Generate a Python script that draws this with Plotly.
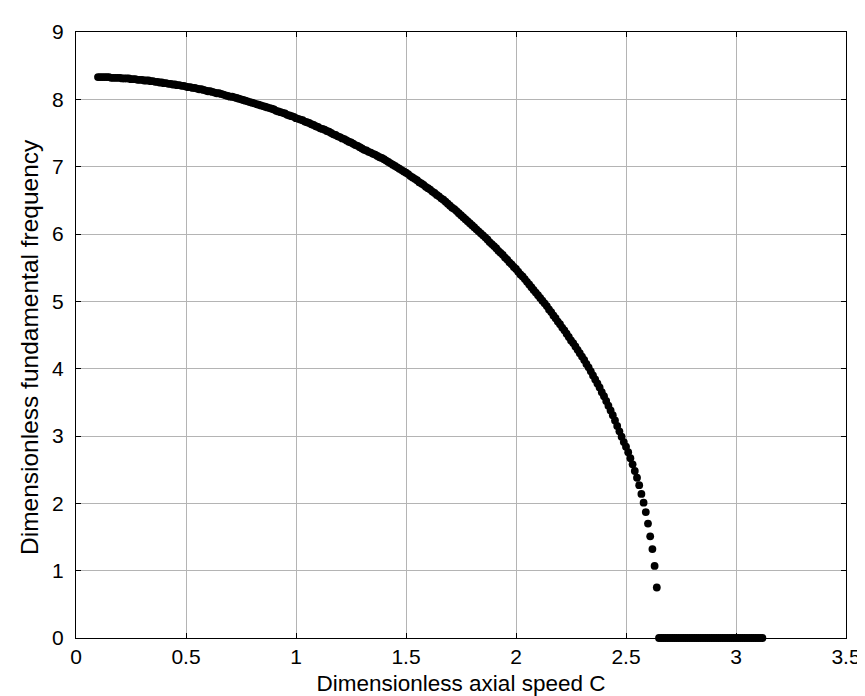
import plotly.graph_objects as go

# Dimensionless axial speed C (nonzero branch) and fundamental frequency
speed_curve = [
    0.10, 0.11, 0.12, 0.13, 0.14, 0.15, 0.16, 0.17, 0.18, 0.19,
    0.20, 0.21, 0.22, 0.23, 0.24, 0.25, 0.26, 0.27, 0.28, 0.29,
    0.30, 0.31, 0.32, 0.33, 0.34, 0.35, 0.36, 0.37, 0.38, 0.39,
    0.40, 0.41, 0.42, 0.43, 0.44, 0.45, 0.46, 0.47, 0.48, 0.49,
    0.50, 0.51, 0.52, 0.53, 0.54, 0.55, 0.56, 0.57, 0.58, 0.59,
    0.60, 0.61, 0.62, 0.63, 0.64, 0.65, 0.66, 0.67, 0.68, 0.69,
    0.70, 0.71, 0.72, 0.73, 0.74, 0.75, 0.76, 0.77, 0.78, 0.79,
    0.80, 0.81, 0.82, 0.83, 0.84, 0.85, 0.86, 0.87, 0.88, 0.89,
    0.90, 0.91, 0.92, 0.93, 0.94, 0.95, 0.96, 0.97, 0.98, 0.99,
    1.00, 1.01, 1.02, 1.03, 1.04, 1.05, 1.06, 1.07, 1.08, 1.09,
    1.10, 1.11, 1.12, 1.13, 1.14, 1.15, 1.16, 1.17, 1.18, 1.19,
    1.20, 1.21, 1.22, 1.23, 1.24, 1.25, 1.26, 1.27, 1.28, 1.29,
    1.30, 1.31, 1.32, 1.33, 1.34, 1.35, 1.36, 1.37, 1.38, 1.39,
    1.40, 1.41, 1.42, 1.43, 1.44, 1.45, 1.46, 1.47, 1.48, 1.49,
    1.50, 1.51, 1.52, 1.53, 1.54, 1.55, 1.56, 1.57, 1.58, 1.59,
    1.60, 1.61, 1.62, 1.63, 1.64, 1.65, 1.66, 1.67, 1.68, 1.69,
    1.70, 1.71, 1.72, 1.73, 1.74, 1.75, 1.76, 1.77, 1.78, 1.79,
    1.80, 1.81, 1.82, 1.83, 1.84, 1.85, 1.86, 1.87, 1.88, 1.89,
    1.90, 1.91, 1.92, 1.93, 1.94, 1.95, 1.96, 1.97, 1.98, 1.99,
    2.00, 2.01, 2.02, 2.03, 2.04, 2.05, 2.06, 2.07, 2.08, 2.09,
    2.10, 2.11, 2.12, 2.13, 2.14, 2.15, 2.16, 2.17, 2.18, 2.19,
    2.20, 2.21, 2.22, 2.23, 2.24, 2.25, 2.26, 2.27, 2.28, 2.29,
    2.30, 2.31, 2.32, 2.33, 2.34, 2.35, 2.36, 2.37, 2.38, 2.39,
    2.40, 2.41, 2.42, 2.43, 2.44, 2.45, 2.46, 2.47, 2.48, 2.49,
    2.50, 2.51, 2.52, 2.53, 2.54, 2.55, 2.56, 2.57, 2.58, 2.59,
    2.60, 2.61, 2.62, 2.63, 2.64,
]
freq_curve = [
    8.33, 8.33, 8.33, 8.33, 8.33, 8.33, 8.32, 8.32, 8.32, 8.32,
    8.32, 8.31, 8.31, 8.31, 8.31, 8.30, 8.30, 8.30, 8.29, 8.29,
    8.29, 8.28, 8.28, 8.28, 8.27, 8.27, 8.26, 8.26, 8.25, 8.25,
    8.24, 8.24, 8.23, 8.23, 8.22, 8.22, 8.21, 8.21, 8.20, 8.20,
    8.19, 8.18, 8.18, 8.17, 8.17, 8.16, 8.15, 8.15, 8.14, 8.13,
    8.12, 8.12, 8.11, 8.10, 8.09, 8.09, 8.08, 8.07, 8.06, 8.05,
    8.04, 8.04, 8.03, 8.02, 8.01, 8.00, 7.99, 7.98, 7.97, 7.96,
    7.95, 7.94, 7.93, 7.92, 7.91, 7.90, 7.89, 7.88, 7.87, 7.86,
    7.85, 7.83, 7.82, 7.81, 7.80, 7.79, 7.77, 7.76, 7.75, 7.74,
    7.72, 7.71, 7.70, 7.69, 7.67, 7.66, 7.65, 7.63, 7.62, 7.60,
    7.59, 7.57, 7.56, 7.55, 7.53, 7.52, 7.50, 7.48, 7.47, 7.45,
    7.44, 7.42, 7.41, 7.39, 7.37, 7.36, 7.34, 7.32, 7.31, 7.29,
    7.27, 7.25, 7.24, 7.22, 7.21, 7.19, 7.18, 7.16, 7.14, 7.13,
    7.11, 7.09, 7.07, 7.05, 7.03, 7.01, 6.99, 6.97, 6.95, 6.93,
    6.91, 6.89, 6.86, 6.84, 6.82, 6.80, 6.77, 6.75, 6.73, 6.70,
    6.68, 6.66, 6.63, 6.61, 6.58, 6.56, 6.53, 6.51, 6.48, 6.45,
    6.42, 6.39, 6.37, 6.34, 6.31, 6.28, 6.25, 6.22, 6.19, 6.16,
    6.13, 6.10, 6.07, 6.04, 6.01, 5.98, 5.95, 5.92, 5.88, 5.85,
    5.82, 5.79, 5.75, 5.72, 5.69, 5.65, 5.62, 5.58, 5.55, 5.51,
    5.48, 5.44, 5.40, 5.37, 5.33, 5.29, 5.25, 5.21, 5.17, 5.13,
    5.09, 5.05, 5.01, 4.97, 4.93, 4.88, 4.84, 4.79, 4.75, 4.70,
    4.66, 4.61, 4.57, 4.52, 4.47, 4.42, 4.38, 4.33, 4.28, 4.23,
    4.18, 4.13, 4.07, 4.02, 3.96, 3.90, 3.84, 3.78, 3.72, 3.65,
    3.59, 3.52, 3.45, 3.38, 3.31, 3.23, 3.15, 3.07, 2.99, 2.91,
    2.84, 2.76, 2.67, 2.58, 2.48, 2.38, 2.27, 2.14, 2.01, 1.87,
    1.70, 1.51, 1.32, 1.07, 0.75,
]

# Beyond the critical speed the frequency is zero
speed_zero = [
    2.65, 2.66, 2.67, 2.68, 2.69, 2.70, 2.71, 2.72, 2.73, 2.74,
    2.75, 2.76, 2.77, 2.78, 2.79, 2.80, 2.81, 2.82, 2.83, 2.84,
    2.85, 2.86, 2.87, 2.88, 2.89, 2.90, 2.91, 2.92, 2.93, 2.94,
    2.95, 2.96, 2.97, 2.98, 2.99, 3.00, 3.01, 3.02, 3.03, 3.04,
    3.05, 3.06, 3.07, 3.08, 3.09, 3.10, 3.11, 3.12,
]
freq_zero = [0.0] * len(speed_zero)

x_ticks = [0, 0.5, 1, 1.5, 2, 2.5, 3, 3.5]
x_tick_labels = ["0", "0.5", "1", "1.5", "2", "2.5", "3", "3.5"]
y_ticks = [0, 1, 2, 3, 4, 5, 6, 7, 8, 9]
y_tick_labels = ["0", "1", "2", "3", "4", "5", "6", "7", "8", "9"]

x_title = "Dimensionless axial speed C"
y_title = "Dimensionless fundamental frequency"

FONT = "Liberation Sans, Arial, Helvetica, sans-serif"

fig = go.Figure()
fig.add_trace(go.Scatter(
    x=speed_curve + speed_zero,
    y=freq_curve + freq_zero,
    mode="markers",
    marker=dict(color="black", size=7.8, line=dict(width=0)),
    showlegend=False,
    cliponaxis=False,
))

axis_common = dict(
    showline=True, linecolor="black", linewidth=1, mirror="ticks",
    ticks="inside", ticklen=5, tickcolor="black", tickwidth=1,
    showgrid=True, gridcolor="#b4b4b4", gridwidth=1,
    zeroline=False,
    tickfont=dict(family=FONT, size=21, color="black"),
)

fig.update_xaxes(
    range=[0, 3.5], tickvals=x_ticks, ticktext=x_tick_labels,
    ticklabelstandoff=0,
    title=dict(text=x_title, standoff=8,
               font=dict(family=FONT, size=22.5, color="black")),
    **axis_common,
)
fig.update_yaxes(
    range=[0, 9], tickvals=y_ticks, ticktext=y_tick_labels,
    ticklabelstandoff=7,
    **axis_common,
)

fig.add_annotation(
    text=y_title, textangle=-90, showarrow=False,
    xref="paper", yref="paper", x=0, y=0.5,
    xanchor="center", yanchor="middle",
    xshift=-47, yshift=-12,
    font=dict(family=FONT, size=24.5, color="black"),
)

fig.update_layout(
    width=865, height=696, autosize=False,
    margin=dict(l=68, r=17, t=16, b=64, pad=0),
    paper_bgcolor="white", plot_bgcolor="white",
    font=dict(family=FONT, color="black"),
)

fig.write_html("out.html")
